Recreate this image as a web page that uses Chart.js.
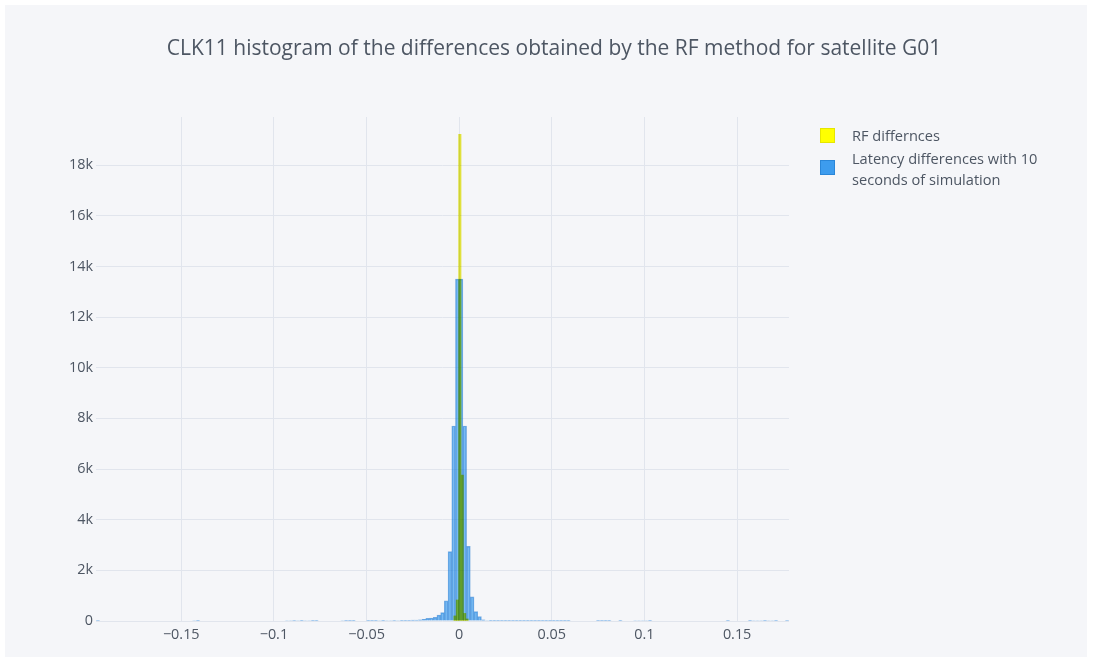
<!DOCTYPE html>
<html>
<head>
<meta charset="utf-8">
<script src="https://cdn.jsdelivr.net/npm/chart.js@4.4.0/dist/chart.umd.min.js"></script>
<style>
html,body{margin:0;padding:0;background:#ffffff;}
#wrap{position:relative;width:1096px;height:661px;overflow:hidden;background:#fff;}
#c{position:absolute;left:5px;top:5px;}
#title{position:absolute;left:13px;width:1082px;top:33px;line-height:28px;text-align:center;
  font-family:"Open Sans",sans-serif;font-size:21px;color:#4D5663;white-space:nowrap;}
.lg{position:absolute;font-family:"Open Sans",sans-serif;font-size:14.6px;color:#4D5663;line-height:20.5px;}
.sw{position:absolute;width:15px;height:15px;box-sizing:border-box;}
</style>
</head>
<body>
<div id="wrap">
  <canvas id="c" width="1082" height="652"></canvas>
  <div id="title">CLK11 histogram of the differences obtained by the RF method for satellite G01</div>
  <div class="sw" style="left:820px;top:128px;background:#ffff00;border:1px solid #e6e600;"></div>
  <div class="lg" style="left:852px;top:125px;">RF differnces</div>
  <div class="sw" style="left:820px;top:160px;background:#3d9cee;border:1px solid #2a86d8;"></div>
  <div class="lg" style="left:852px;top:148px;">Latency differences with 10<br>seconds of simulation</div>
</div>
<script>
// ---- data (histogram bin centres and counts) ----
const seriesNames = ['RF differnces', 'Latency differences with 10 seconds of simulation'];

// Latency differences: bins of width 0.002
const latencyBinCenters = [
  -0.195, -0.143, -0.141,
  -0.093, -0.091, -0.089, -0.087, -0.085, -0.083, -0.081, -0.079, -0.077,
  -0.063, -0.061, -0.059, -0.057,
  -0.049, -0.047, -0.045, -0.043, -0.041, -0.039, -0.037, -0.035, -0.033, -0.031,
  -0.029, -0.027, -0.025, -0.023, -0.021,
  -0.019, -0.017, -0.015, -0.013, -0.011, -0.009, -0.007, -0.005, -0.003, -0.001,
  0.001, 0.003, 0.005, 0.007, 0.009, 0.011, 0.013, 0.015, 0.017, 0.019,
  0.021, 0.023, 0.025, 0.027, 0.029, 0.031, 0.033, 0.035, 0.037, 0.039,
  0.041, 0.043, 0.045, 0.047, 0.049, 0.051, 0.053, 0.055, 0.057, 0.059,
  0.075, 0.077, 0.079, 0.081, 0.087,
  0.095, 0.097, 0.099, 0.101, 0.103,
  0.145, 0.157, 0.159, 0.161, 0.163, 0.165, 0.167, 0.169, 0.171, 0.177
];
const latencyCounts = [
  3, 18, 15,
  18, 20, 22, 18, 15, 20, 18, 15, 12,
  18, 15, 12, 15,
  14, 16, 15, 18, 16, 20, 18, 22, 20, 24,
  25, 28, 32, 40, 50,
  66, 105, 120, 145, 237, 330, 800, 2740, 7700, 13500,
  13500, 7700, 2950, 950, 370, 170, 50, 18, 15, 14,
  15, 14, 16, 14, 15, 13, 15, 14, 12, 14,
  13, 15, 12, 14, 13, 15, 12, 14, 12, 13,
  15, 12, 15, 14, 15,
  18, 20, 18, 20, 16,
  14, 16, 18, 20, 18, 16, 18, 20, 15, 3
];

// RF differences: narrow bins of width 0.0013
const rfBinCenters = [-0.00225, -0.00095, 0.00035, 0.00165, 0.00295, 0.00425];
const rfCounts     = [200, 830, 19220, 5760, 300, 80];

const xTickValues = [-0.15, -0.1, -0.05, 0, 0.05, 0.1, 0.15];
const yTickValues = [0, 2000, 4000, 6000, 8000, 10000, 12000, 14000, 16000, 18000];
const xMin = -0.196, xMax = 0.178, yMax = 19900;

// ---- plugins (style only) ----
const bgPlugin = {
  id: 'bg',
  beforeDraw(chart) {
    const c = chart.ctx;
    c.save();
    c.fillStyle = '#F5F6F9';
    c.fillRect(0, 0, chart.width, chart.height);
    c.restore();
  }
};
const blendPlugin = {
  id: 'blend',
  beforeDatasetDraw(chart, args) {
    if (args.index === 0) { chart.ctx.save(); chart.ctx.globalCompositeOperation = 'multiply'; }
  },
  afterDatasetDraw(chart, args) {
    if (args.index === 0) { chart.ctx.restore(); }
  }
};

const tickFont = { family: '"Open Sans", sans-serif', size: 14.4 };
const gridColor = '#E1E5ED';

new Chart(document.getElementById('c'), {
  type: 'bar',
  data: {
    datasets: [
      {
        label: seriesNames[0],
        data: rfBinCenters.map((x, i) => ({ x: x, y: rfCounts[i] })),
        xAxisID: 'x2',
        backgroundColor: 'rgba(232,232,40,0.9)',
        borderWidth: 0,
        barPercentage: 1,
        categoryPercentage: 1,
        grouped: false
      },
      {
        label: seriesNames[1],
        data: latencyBinCenters.map((x, i) => ({ x: x, y: latencyCounts[i] })),
        xAxisID: 'x',
        backgroundColor: 'rgba(40,145,235,0.6)',
        borderColor: 'rgba(25,115,205,0.55)',
        borderWidth: 0.8,
        barPercentage: 1,
        categoryPercentage: 1,
        grouped: false
      }
    ]
  },
  options: {
    responsive: false,
    animation: false,
    events: [],
    layout: { padding: { left: 51, right: 298, top: 112, bottom: 6 } },
    plugins: {
      legend: { display: false },
      title: { display: false },
      tooltip: { enabled: false }
    },
    scales: {
      x: {
        type: 'linear',
        min: xMin, max: xMax,
        offset: false,
        grid: { color: gridColor, lineWidth: 1, drawTicks: false, offset: false },
        border: { display: false },
        afterBuildTicks: s => { s.ticks = xTickValues.map(v => ({ value: v })); },
        afterFit: s => { s.height = 30; },
        ticks: {
          font: tickFont, color: '#4D5663', padding: 5, maxRotation: 0, autoSkip: false,
          callback: v => (v < 0 ? '\u2212' + String(Math.abs(Math.round(v * 1000) / 1000)) : String(Math.round(v * 1000) / 1000))
        }
      },
      x2: {
        type: 'linear',
        min: xMin, max: xMax,
        offset: false,
        grid: { offset: false },
        display: false
      },
      y: {
        min: 0, max: yMax,
        grid: { color: gridColor, lineWidth: 1, drawTicks: false },
        border: { display: false },
        afterBuildTicks: s => { s.ticks = yTickValues.map(v => ({ value: v })); },
        afterFit: s => { s.width = 40; },
        ticks: {
          font: tickFont, color: '#4D5663', padding: 3,
          callback: v => (v === 0 ? '0' : (v / 1000) + 'k')
        }
      }
    }
  },
  plugins: [bgPlugin, blendPlugin]
});
</script>
</body>
</html>
